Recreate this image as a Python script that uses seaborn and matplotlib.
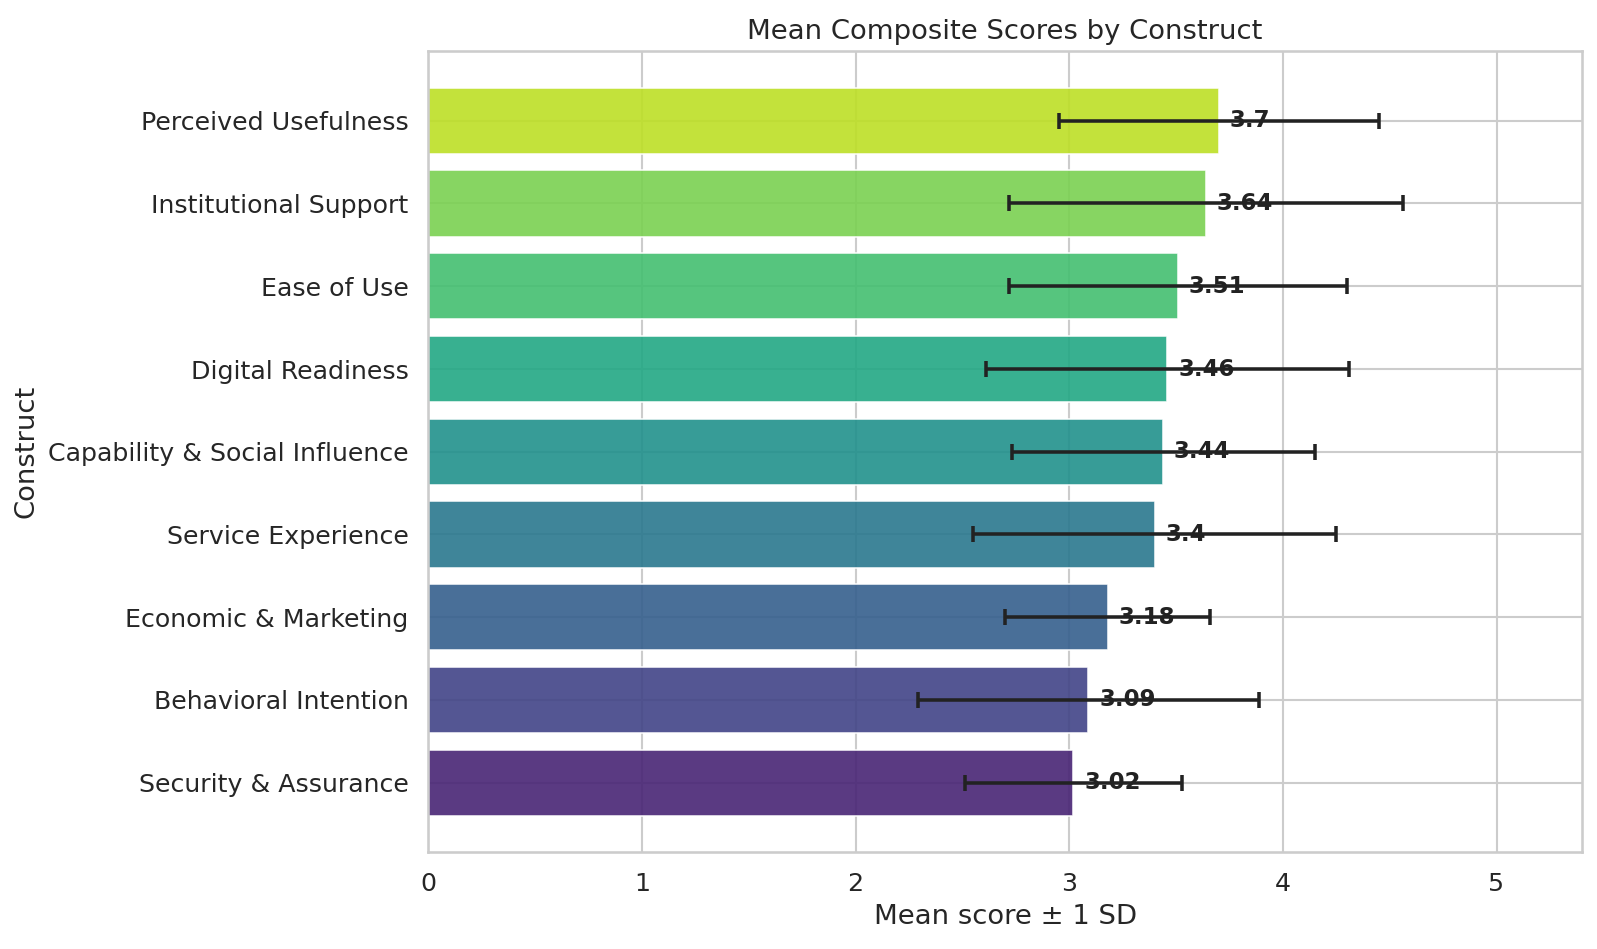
import pandas as pd
import numpy as np
import seaborn as sns
import matplotlib.pyplot as plt

constructs = ["Perceived Usefulness", "Institutional Support", "Ease of Use",
              "Digital Readiness", "Capability & Social Influence", "Service Experience",
              "Economic & Marketing", "Behavioral Intention", "Security & Assurance"]
means = [3.70, 3.64, 3.51, 3.46, 3.44, 3.40, 3.18, 3.09, 3.02]
sds = [0.75, 0.92, 0.79, 0.85, 0.71, 0.85, 0.48, 0.80, 0.51]

data = pd.DataFrame({"Construct": constructs, "Mean": means, "SD": sds})

sns.set_theme(style="whitegrid", context="notebook", font_scale=1.1)

fig, ax = plt.subplots(figsize=(10.653, 6.327), dpi=150)
fig.subplots_adjust(left=0.268, right=0.990, top=0.946, bottom=0.102)

colors = sns.color_palette("viridis", len(constructs))[::-1]
sns.barplot(data=data, x="Mean", y="Construct", hue="Construct", palette=colors,
            legend=False, width=0.8, alpha=0.9, saturation=1, edgecolor="white",
            linewidth=0.8, orient="h", ax=ax)

ypos = np.arange(len(constructs))
ax.errorbar(data["Mean"], ypos, xerr=data["SD"], fmt="none", ecolor="#222222",
            elinewidth=1.7, capsize=4, capthick=1.7)

for y, m in zip(ypos, data["Mean"]):
    ax.text(m + 0.05, y, f"{m:g}", va="center", ha="left", fontsize=11,
            fontweight="bold", color="#222222")

# match matplotlib's default 5% margins around the bars
pad = 0.05 * (len(constructs) - 1 + 0.8)
ax.set_ylim(len(constructs) - 1 + 0.4 + pad, -0.4 - pad)
ax.set_xlim(0, 5.4)
ax.set_xticks([0, 1, 2, 3, 4, 5])
ax.grid(True, axis="both")
ax.set_title("Mean Composite Scores by Construct")
ax.set_xlabel("Mean score ± 1 SD")
ax.set_ylabel("Construct")

fig.savefig("out.png", dpi=150)
